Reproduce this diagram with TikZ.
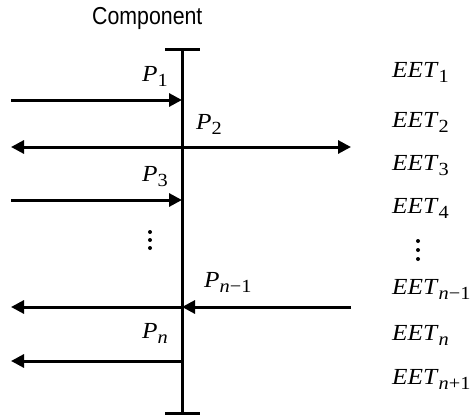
\documentclass[tikz,border=0pt]{standalone}
\usepackage{fontspec}
\setmainfont{Liberation Serif}
\newfontfamily\labelsans{Liberation Sans}
\usetikzlibrary{arrows.meta}
% italic symbol with a lowered subscript, set slightly wide
\newcommand\symsub[2]{\scalebox{1.1}[1]{\fontsize{23}{23}\selectfont\textit{#1}\raisebox{-5.5pt}{\fontsize{18.5}{18.5}\selectfont #2}}}
\begin{document}
\begin{tikzpicture}[x=1pt,y=-1pt,
  wire/.style={line width=3pt},
  flow/.style={line width=3pt,-{Triangle[length=13pt,width=13pt]}},
  bothflow/.style={line width=3pt,{Triangle[length=13pt,width=13pt]}-{Triangle[length=13pt,width=13pt]}},
  plabel/.style={inner sep=0pt,anchor=base west},
  dot/.style={fill=black,draw=none}]
\useasboundingbox (0,0) rectangle (471,418);

% the component: vertical bar with end caps
\coordinate (top) at (182,49);
\coordinate (bot) at (182,413);
\coordinate (topl) at (165,49);
\coordinate (topr) at (200,49);
\coordinate (botl) at (165,413);
\coordinate (botr) at (200,413);
\draw[wire] (top) -- (bot);
\draw[wire] (topl) -- (topr);
\draw[wire] (botl) -- (botr);
\node[inner sep=0pt,anchor=base west] (comp) at (92,24)
  {\scalebox{0.87}[1]{\labelsans\fontsize{24.5}{24.5}\selectfont Component}};

% ports on the bar
\coordinate (b1) at (182,100);
\coordinate (b3) at (182,200);
\coordinate (bn1) at (182,307);
\coordinate (bn) at (182,361);

% outer ends of the arrows
\coordinate (l1) at (11,100);
\coordinate (l2) at (11,147);
\coordinate (r2) at (351,147);
\coordinate (l3) at (11,200);
\coordinate (ln1) at (11,307);
\coordinate (rn1) at (351,307);
\coordinate (ln) at (11,361);

\draw[flow] (l1) -- (b1);
\draw[bothflow] (l2) -- (r2);
\draw[flow] (l3) -- (b3);
\draw[flow] (bn1) -- (ln1);
\draw[flow] (rn1) -- (bn1);
\draw[flow] (bn) -- (ln);

% port labels
\node[plabel] (p1) at (142,81) {\symsub{P}{1}};
\node[plabel] (p2) at (196,129) {\symsub{P}{2}};
\node[plabel] (p3) at (142,181) {\symsub{P}{3}};
\node[plabel] (pn1) at (204,287) {\symsub{P}{\textit{n}−1}};
\node[plabel] (pn) at (142,338) {\symsub{P}{\textit{n}}};

% left dots
\fill[dot] (150,232) circle (2);
\fill[dot] (150,240) circle (2);
\fill[dot] (150,248) circle (2);

% event labels
\node[plabel] (e1) at (392,77) {\symsub{EET}{1}};
\node[plabel] (e2) at (392,127) {\symsub{EET}{2}};
\node[plabel] (e3) at (392,170) {\symsub{EET}{3}};
\node[plabel] (e4) at (392,213) {\symsub{EET}{4}};
\node[plabel] (en1) at (392,294) {\symsub{EET}{\textit{n}−1}};
\node[plabel] (en) at (392,340) {\symsub{EET}{\textit{n}}};
\node[plabel] (en2) at (392,384) {\symsub{EET}{\textit{n}+1}};

% right dots
\fill[dot] (418,241) circle (2);
\fill[dot] (418,250) circle (2);
\fill[dot] (418,259) circle (2);
\end{tikzpicture}
\end{document}
